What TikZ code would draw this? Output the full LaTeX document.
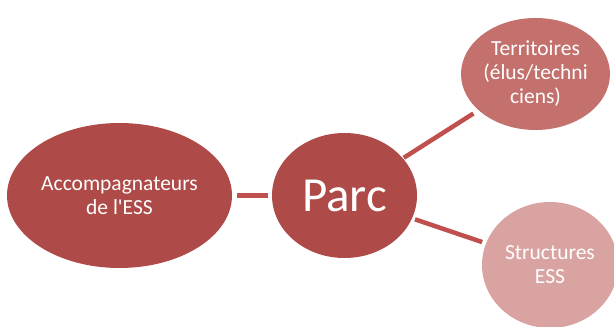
\documentclass[tikz,border=0pt]{standalone}
\usepackage{fontspec}
\setmainfont{Carlito}
\usepackage{tikz}
\usetikzlibrary{shapes.geometric}
\definecolor{darkred}{HTML}{AE4A47}
\definecolor{midred}{HTML}{C4716E}
\definecolor{palered}{HTML}{D9A3A2}
\definecolor{linkred}{HTML}{C0504D}

\begin{document}
\begin{tikzpicture}[x=1pt, y=1pt,
  blob/.style={ellipse, draw=none, inner sep=0pt, align=center, text=white,
               font=\fontsize{21.5}{24}\selectfont},
  link/.style={draw=linkred, line width=4.5pt},
]
\useasboundingbox (0,0) rectangle (614,327);
% centre and the three partners
\node[blob, fill=darkred, minimum width=145, minimum height=125,
      font=\fontsize{49}{56}\selectfont] (parc) at (344.5,131.5) {Parc};
\node[blob, fill=darkred, minimum width=225, minimum height=145] (acc) at (119.5,131.5)
  {Accompagnateurs\\de l\textquotesingle ESS};
\node[blob, fill=midred, minimum width=149, minimum height=112] (terr) at (535.5,253)
  {Territoires\\(élus/techni\\ciens)};
\node[blob, fill=palered, minimum width=136, minimum height=126] (struct) at (550,62)
  {Structures\\ESS};
% links
\draw[link, shorten <=5, shorten >=4] (acc) -- (parc);
\draw[link, shorten <=1, shorten >=6] (parc) -- (terr);
\draw[link, shorten <=3, shorten >=4] (parc) -- (struct);
\end{tikzpicture}
\end{document}
